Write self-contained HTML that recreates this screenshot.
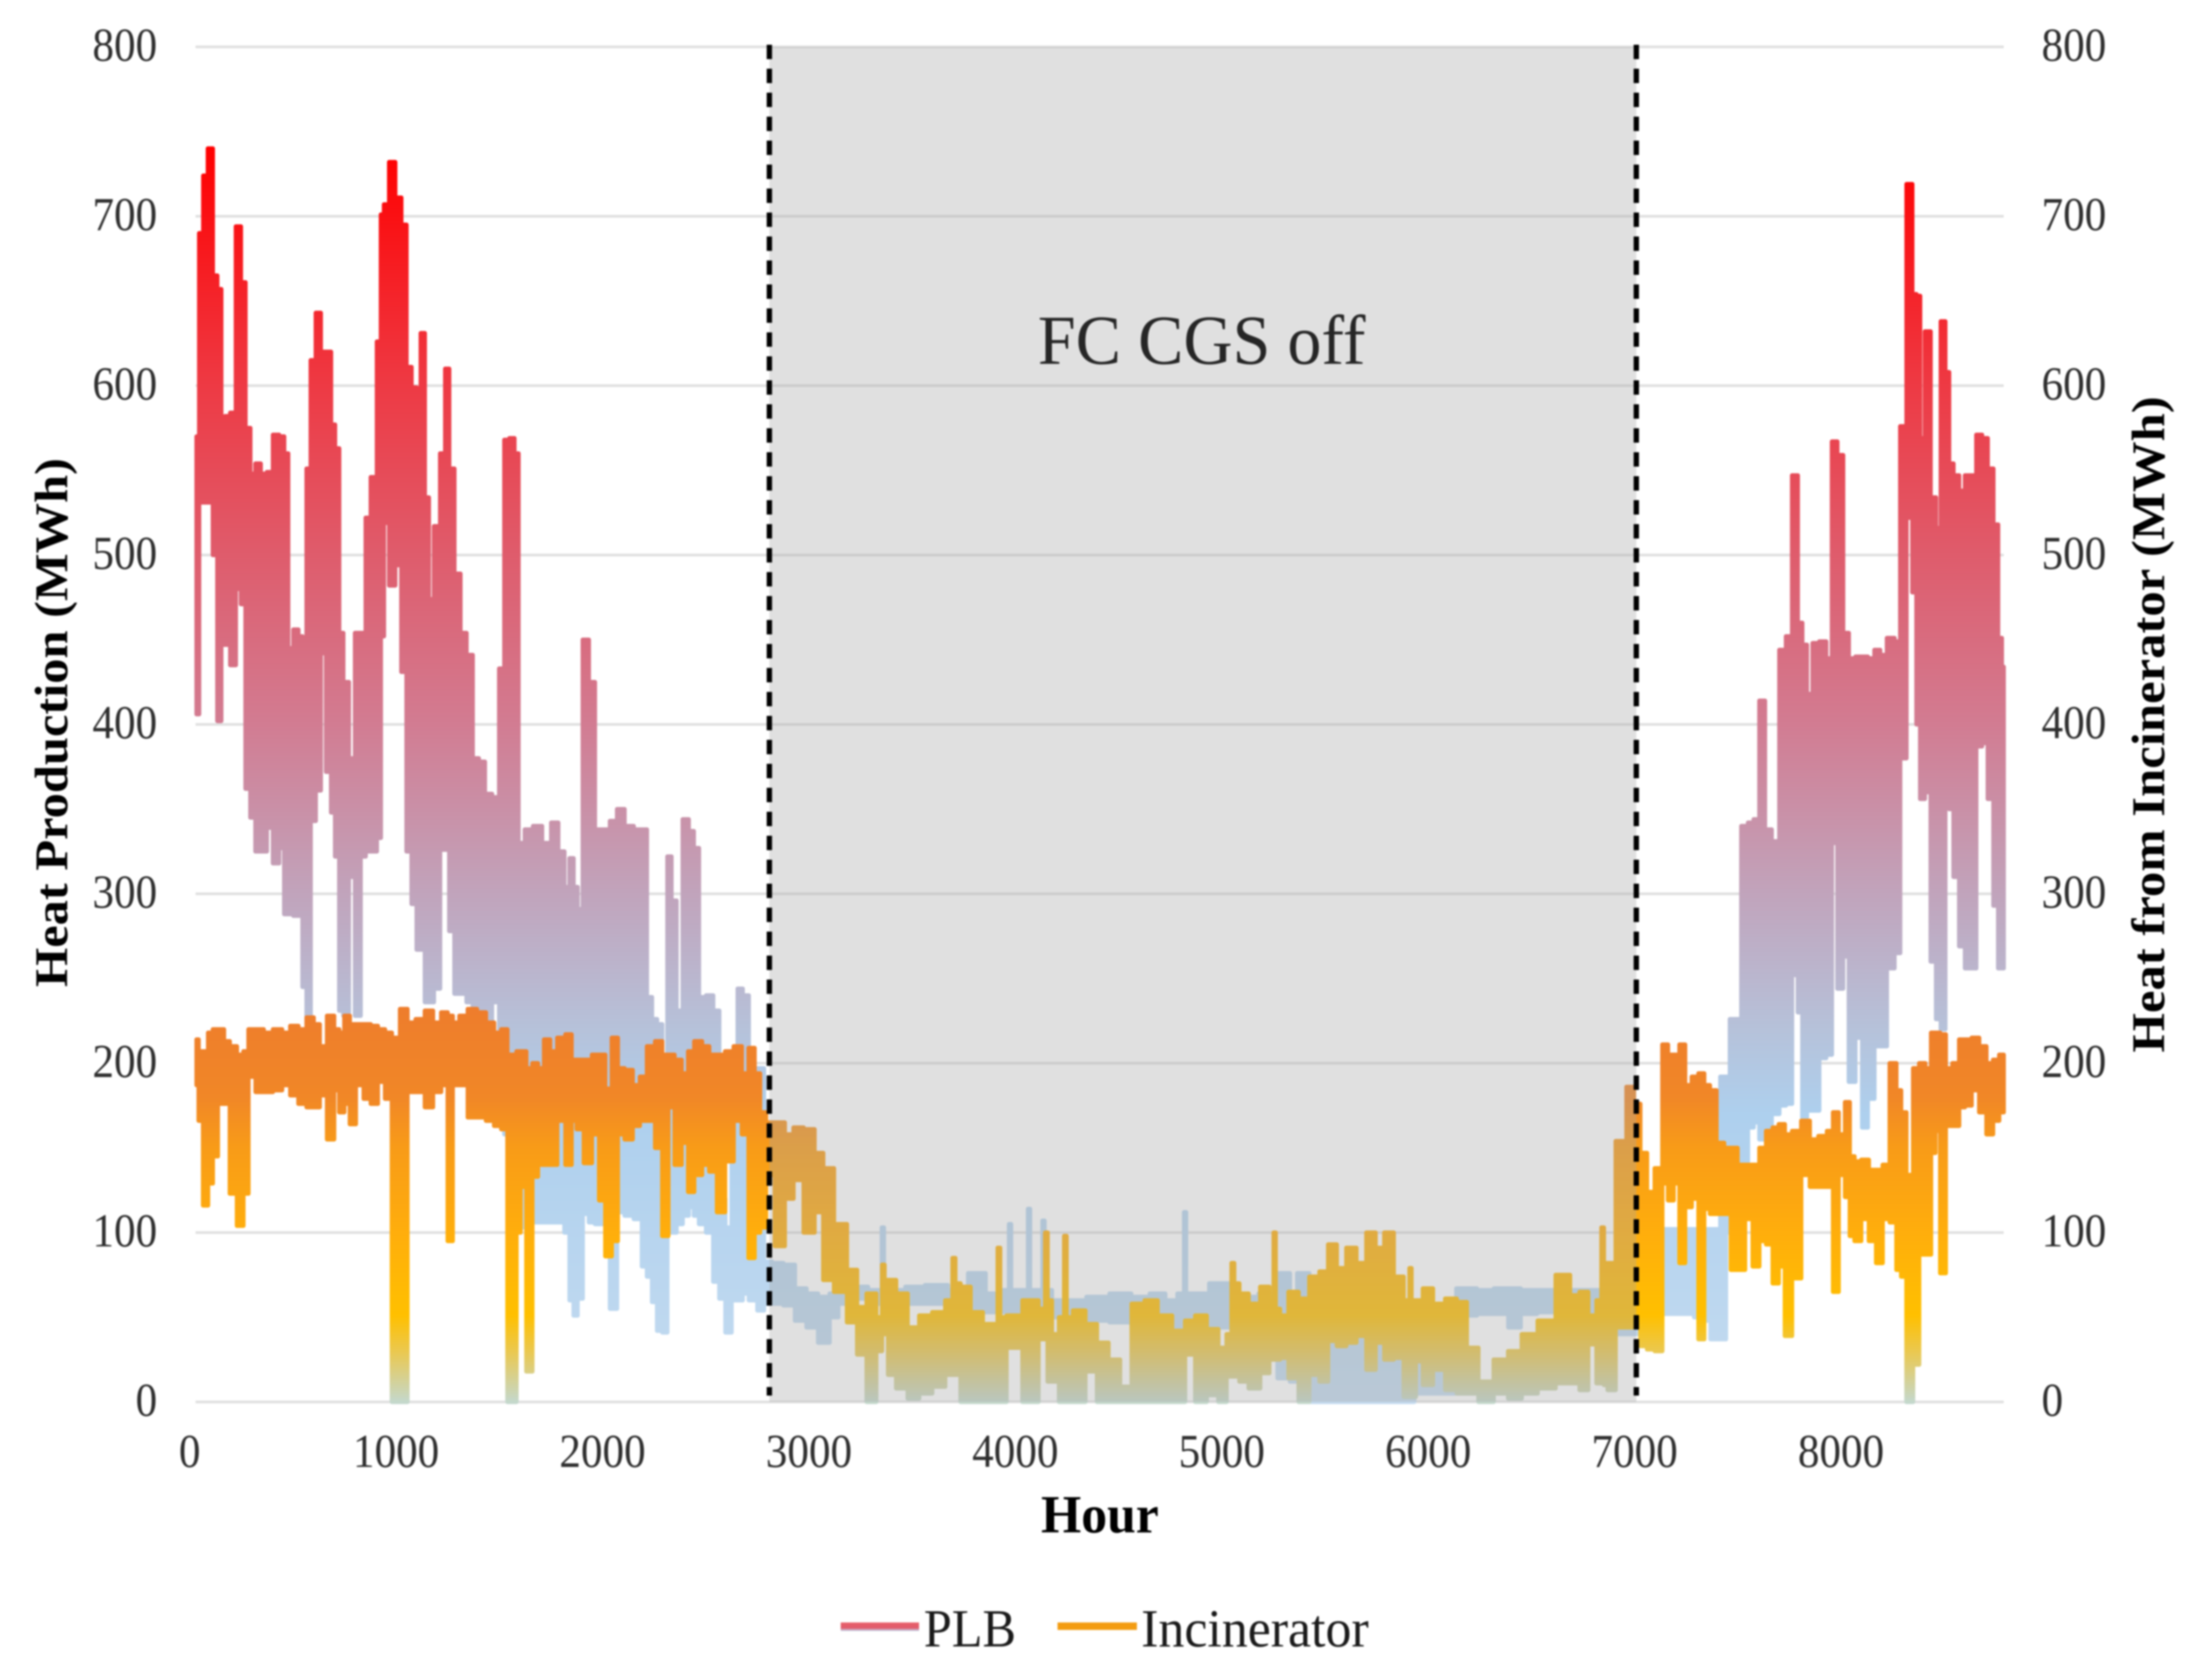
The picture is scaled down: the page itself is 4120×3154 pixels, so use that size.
<!DOCTYPE html>
<html lang="en">
<head>
<meta charset="utf-8">
<title>Heat production chart</title>
<style>
html,body{margin:0;padding:0;background:#fff;}
svg{display:block;filter:blur(1.6px);}
text{font-family:"Liberation Serif",serif;}
</style>
</head>
<body>
<svg id="chart" xmlns="http://www.w3.org/2000/svg" width="4120" height="3154" viewBox="0 0 4120 3154">
<defs>
<linearGradient id="plbGrad" gradientUnits="userSpaceOnUse" x1="0" x2="0" y1="279" y2="2632">
<stop offset="0" stop-color="#ff0000"/>
<stop offset="0.189" stop-color="#ee3a44"/>
<stop offset="0.324" stop-color="#df5c6c"/>
<stop offset="0.459" stop-color="#d27c92"/>
<stop offset="0.595" stop-color="#c1a4bc"/>
<stop offset="0.703" stop-color="#b6c2da"/>
<stop offset="0.77" stop-color="#aed0ee"/>
<stop offset="1" stop-color="#c4dbf0"/>
</linearGradient>
<linearGradient id="incGrad" gradientUnits="userSpaceOnUse" x1="0" x2="0" y1="1894" y2="2632">
<stop offset="0" stop-color="#ee7d2c"/>
<stop offset="0.224" stop-color="#f18727"/>
<stop offset="0.35" stop-color="#f89b18"/>
<stop offset="0.57" stop-color="#ffae0c"/>
<stop offset="0.78" stop-color="#ffc000"/>
<stop offset="0.87" stop-color="#ebc84e"/>
<stop offset="1" stop-color="#c4d8cc"/>
</linearGradient>
<linearGradient id="legendPlbGrad" x1="0" x2="0" y1="0" y2="1">
<stop offset="0" stop-color="#e8606a"/>
<stop offset="0.65" stop-color="#e05c6c"/>
<stop offset="1" stop-color="#c0d8f0"/>
</linearGradient>
</defs>
<rect x="0" y="0" width="4120" height="3154" fill="#ffffff"/>
<g id="grid"></g>
<path id="plbSeries" fill="url(#plbGrad)" stroke="url(#plbGrad)" stroke-width="8" stroke-linejoin="round"/>
<path id="incSeries" fill="url(#incGrad)" stroke="url(#incGrad)" stroke-width="8" stroke-linejoin="round"/>
<rect id="offBand" fill="rgb(165,165,165)" fill-opacity="0.35"/>
<line id="offStart" stroke="#000" stroke-width="10" stroke-dasharray="27 18"/>
<line id="offEnd" stroke="#000" stroke-width="10" stroke-dasharray="27 18"/>
<g id="ticks"></g>
<text x="1948" y="683" font-size="132" fill="#262626" textLength="615" lengthAdjust="spacingAndGlyphs">FC CGS off</text>
<text transform="translate(1954,2877) scale(1,1.1)" font-size="92" font-weight="bold" fill="#000" textLength="221" lengthAdjust="spacingAndGlyphs">Hour</text>
<text transform="translate(126,1853) rotate(-90)" font-size="88" font-weight="bold" fill="#000" textLength="993" lengthAdjust="spacingAndGlyphs">Heat Production (MWh)</text>
<text transform="translate(4062,1976) rotate(-90)" font-size="88" font-weight="bold" fill="#000" textLength="1232" lengthAdjust="spacingAndGlyphs">Heat from Incinerator (MWh)</text>
<g>
<rect x="1578" y="3046" width="147" height="16" fill="url(#legendPlbGrad)"/>
<text transform="translate(1734,3091) scale(1,1.1)" font-size="92" fill="#1a1a1a" textLength="173" lengthAdjust="spacingAndGlyphs">PLB</text>
<rect x="1985" y="3046" width="149" height="14" fill="#f39c12"/>
<text transform="translate(2142,3091) scale(1,1.1)" font-size="92" fill="#1a1a1a" textLength="427" lengthAdjust="spacingAndGlyphs">Incinerator</text>
</g>
</svg>
<script>
const yTicks = [0,100,200,300,400,500,600,700,800];
const xTicks = [0,1000,2000,3000,4000,5000,6000,7000,8000];
const offWindow = [2780,6980];

const plbHours = [5,30,45,74,94,117,133,153,183,208,232,252,279,301,331,360,390,420,439,459,489,508,528,548,568,597,617,647,666,686,706,726,760,785,815,834,864,893,903,923,953,982,1012,1032,1061,1081,1101,1121,1140,1170,1200,1219,1239,1269,1298,1328,1358,1387,1417,1456,1486,1506,1535,1555,1575,1615,1655,1703,1743,1772,1802,1822,1841,1861,1891,1920,1950,1990,2025,2059,2098,2148,2177,2197,2226,2246,2276,2296,2316,2345,2375,2404,2424,2454,2493,2523,2552,2582,2612,2641,2661,2700,2744,
2764,2820,2876,2932,2988,3044,3100,3128,3226,3290,3320,3330,3340,3400,3478,3590,3700,3786,3870,3936,3946,3956,3990,4028,4038,4048,4098,4108,4118,4180,4262,4370,4486,4580,4666,4730,4784,4794,4804,4860,4962,5100,5200,5284,5320,5354,5438,5500,5600,5700,5800,5858,5950,6050,6166,
6250,6330,6390,6450,6550,6650,6782,6900,6960,7018,7080,7147,7200,7240,7280,7310,7369,7405,7424,7442,7470,7507,7535,7562,7590,
7617,7655,7691,7719,7750,7775,7793,7820,7848,7885,7915,7940,7968,7996,8023,8060,8088,8115,8152,8171,8217,8245,8272,8306,8328,8346,8364,8392,8420,8444,8466,8488,8503,8530,8558,8586,8613,8641,8669,8696,8724,8742,8760];
const plbHigh = [570,690,724,740,665,657,581,582,584,694,661,575,548,554,548,549,571,570,560,445,456,452,445,551,615,643,620,620,577,563,454,425,380,454,454,522,546,626,701,707,732,711,695,611,599,551,631,534,474,517,560,610,551,489,454,441,380,378,359,357,433,568,569,560,330,338,340,330,342,325,304,321,304,291,450,425,338,338,343,350,340,338,338,239,226,223,170,322,296,231,344,337,327,239,240,231,120,103,160,244,240,197,197,
83,82,81,67,64,62,64,65,68,66,66,103,66,66,68,69,66,76,64,66,105,66,66,66,114,66,66,107,66,60,60,62,64,62,64,60,64,112,64,64,70,62,64,76,60,76,66,70,70,70,66,60,55,55,67,
66,67,67,66,66,66,66,60,70,67,70,102,102,102,102,102,102,192,192,226,226,340,342,344,414,
338,331,444,452,547,460,447,418,448,449,439,567,559,454,439,440,440,439,444,441,451,449,576,719,654,653,569,632,534,516,638,608,554,547,538,547,547,571,569,551,518,451,434];
const plbLow = [406,531,531,531,500,402,447,447,435,480,471,362,345,325,325,339,318,327,288,288,287,287,245,223,343,361,442,372,348,322,231,228,310,228,322,325,325,333,452,519,482,494,431,325,294,267,267,236,236,244,326,326,278,241,241,236,233,230,225,236,215,158,140,106,103,150,106,106,106,106,100,60,51,61,111,106,105,105,55,112,110,108,80,74,59,42,41,101,100,105,110,115,110,105,100,71,61,41,60,60,64,60,54,
58,58,57,48,44,35,50,58,61,58,58,60,58,58,58,58,55,53,53,53,53,53,52,55,55,55,54,54,54,50,50,48,47,46,45,44,44,44,44,44,44,42,30,14,12,30,0,0,0,0,0,0,5,5,51,
52,52,44,52,53,52,52,40,40,50,52,52,52,52,50,48,37,37,100,130,142,142,162,165,155,
155,170,175,176,252,230,168,172,172,203,205,330,244,263,189,215,162,179,210,210,256,265,380,522,478,400,356,360,260,226,220,356,350,310,269,256,256,387,389,356,293,256,256];

const incHours = [5,25,48,74,94,123,153,179,222,242,271,311,350,400,439,479,518,558,587,617,657,686,706,736,759,795,834,864,903,933,969,1012,1042,1091,1131,1170,1210,1233,1259,1298,1340,1387,1427,1466,1496,1526,1545,1565,1585,1620,1644,1674,1703,1733,1772,1812,1832,1861,1901,1940,1970,2000,2033,2059,2098,2138,2167,2207,2246,2276,2306,2335,2375,2398,2434,2474,2503,2549,2582,2632,2661,2697,2720,2750,
2778,2834,2876,2918,2974,3024,3058,3128,3184,3226,3276,3320,3332,3344,3366,3422,3478,3534,3604,3660,3674,3688,3724,3786,3842,3880,3892,3904,3954,4058,4110,4122,4134,4164,4202,4214,4226,4276,4346,4388,4458,4500,4570,4626,4696,4766,4822,4864,4934,4976,5014,5024,5040,5074,5130,5186,5218,5228,5238,5270,5320,5368,5424,5466,5508,5550,5600,5648,5696,5738,5780,5830,5876,5886,5896,5928,5964,6026,6082,6138,6180,6250,6328,6390,6460,6544,6634,6684,6726,6768,6806,6816,6830,6852,6908,6956,6981,
7018,7046,7092,7120,7147,7175,7203,7230,7267,7295,7323,7350,7387,7424,7452,7489,7525,7562,7590,7627,7654,7686,7713,7756,7802,7839,7885,7922,7944,7977,8005,8023,8051,8088,8125,8158,8189,8226,8254,8272,8305,8337,8364,8396,8420,8438,8466,8493,8530,8558,8586,8623,8659,8693,8724,8752,8760];
const incHigh = [214,207,207,218,220,220,213,210,205,207,220,220,218,220,218,222,220,227,223,210,228,220,218,228,223,223,223,222,220,218,215,232,224,226,231,224,230,228,224,228,232,230,224,218,220,205,205,207,207,197,200,197,214,207,215,217,202,202,202,205,205,185,215,197,196,187,192,210,213,205,205,202,194,207,213,210,205,205,207,210,194,209,194,171,
165,165,158,162,161,147,138,105,78,56,64,50,81,72,72,64,44,51,53,60,85,70,68,53,46,46,91,50,51,60,55,100,60,40,50,98,50,54,46,35,25,9,58,60,51,42,48,51,43,32,40,82,70,64,58,68,60,100,55,51,65,61,74,77,93,79,91,82,100,91,100,74,60,79,60,60,67,58,61,59,32,12,25,30,40,48,75,63,65,51,60,103,82,82,154,186,176,
147,124,138,211,205,205,211,187,192,194,187,184,153,150,150,140,140,140,150,160,162,164,158,160,166,155,157,160,171,158,177,145,142,143,137,137,140,200,184,171,134,197,200,197,218,218,217,197,200,214,214,215,210,200,202,205,205];
const incLow = [187,166,116,129,145,176,176,123,104,123,192,183,183,184,187,181,176,174,174,181,155,184,171,176,164,187,179,176,189,179,0,0,183,183,174,183,187,95,187,187,168,168,166,163,161,0,0,100,127,18,133,140,140,140,166,140,166,161,141,158,119,86,95,158,155,163,166,166,150,98,174,140,153,124,134,140,136,112,142,166,158,85,100,103,
134,92,120,131,100,112,72,65,47,28,0,30,44,40,16,8,2,5,9,16,16,16,0,0,0,0,0,0,32,0,37,37,12,12,0,0,0,0,18,0,0,0,0,0,0,0,28,0,4,0,15,15,15,12,8,17,25,25,25,26,14,0,16,12,36,33,35,39,19,35,25,26,3,3,3,24,10,19,7,5,5,0,5,2,5,8,11,11,7,34,11,11,10,7,44,44,52,
33,31,30,129,119,129,82,115,120,37,114,111,111,111,78,78,108,80,95,93,70,80,39,73,134,127,127,127,65,134,121,98,95,108,95,82,108,106,78,74,0,22,87,87,147,160,76,163,163,174,175,184,171,158,166,171,171];

const svgNS = 'http://www.w3.org/2000/svg';
const PLOT_LEFT = 367, PLOT_RIGHT = 3761, PLOT_TOP = 88, PLOT_BOTTOM = 2632;
const HOUR_MAX = 8760, VALUE_MAX = 800;
function x(h){ return PLOT_LEFT + h * (PLOT_RIGHT - PLOT_LEFT) / HOUR_MAX; }
function y(v){ return PLOT_BOTTOM - v * (PLOT_BOTTOM - PLOT_TOP) / VALUE_MAX; }

function bandPath(hours, high, low){
  const n = hours.length;
  let d = 'M' + x(hours[0]).toFixed(1) + ' ' + y(high[0]).toFixed(1);
  for (let i = 1; i < n; i++){
    const m = x((hours[i-1] + hours[i]) / 2).toFixed(1);
    d += 'L' + m + ' ' + y(high[i-1]).toFixed(1) + 'L' + m + ' ' + y(high[i]).toFixed(1);
  }
  d += 'L' + x(hours[n-1]).toFixed(1) + ' ' + y(high[n-1]).toFixed(1);
  d += 'L' + x(hours[n-1]).toFixed(1) + ' ' + y(low[n-1]).toFixed(1);
  for (let i = n - 1; i > 0; i--){
    const m = x((hours[i-1] + hours[i]) / 2).toFixed(1);
    d += 'L' + m + ' ' + y(low[i]).toFixed(1) + 'L' + m + ' ' + y(low[i-1]).toFixed(1);
  }
  d += 'L' + x(hours[0]).toFixed(1) + ' ' + y(low[0]).toFixed(1) + 'Z';
  return d;
}

document.getElementById('plbSeries').setAttribute('d', bandPath(plbHours, plbHigh, plbLow));
document.getElementById('incSeries').setAttribute('d', bandPath(incHours, incHigh, incLow));

const grid = document.getElementById('grid');
const ticks = document.getElementById('ticks');

yTicks.forEach(function(v){
  const line = document.createElementNS(svgNS, 'line');
  
  
  line.setAttribute('x1', PLOT_LEFT);
  line.setAttribute('x2', PLOT_RIGHT);
  line.setAttribute('y1', y(v));
  line.setAttribute('y2', y(v));
  line.setAttribute('stroke', '#e0e0e0');
  line.setAttribute('stroke-width', '5');
  grid.appendChild(line);

  const left = document.createElementNS(svgNS, 'text');
  
  
  left.setAttribute('transform', 'translate(295,' + (y(v) + 26) + ') scale(1,1.1)');
  left.setAttribute('text-anchor', 'end');
  left.setAttribute('font-size', '81');
  left.setAttribute('fill', '#2e2e2e');
  left.textContent = v;
  ticks.appendChild(left);

  const right = document.createElementNS(svgNS, 'text');
  
  
  right.setAttribute('transform', 'translate(3832,' + (y(v) + 26) + ') scale(1,1.1)');
  right.setAttribute('font-size', '81');
  right.setAttribute('fill', '#2e2e2e');
  right.textContent = v;
  ticks.appendChild(right);
});

xTicks.forEach(function(h){
  const label = document.createElementNS(svgNS, 'text');
  
  
  label.setAttribute('transform', 'translate(' + (x(h) - 11) + ',2754) scale(1,1.1)');
  label.setAttribute('text-anchor', 'middle');
  label.setAttribute('font-size', '81');
  label.setAttribute('fill', '#2e2e2e');
  label.textContent = h;
  ticks.appendChild(label);
});

const band = document.getElementById('offBand');
band.setAttribute('x', x(offWindow[0]));
band.setAttribute('y', PLOT_TOP);
band.setAttribute('width', x(offWindow[1]) - x(offWindow[0]));
band.setAttribute('height', PLOT_BOTTOM - PLOT_TOP);

[['offStart', offWindow[0]], ['offEnd', offWindow[1]]].forEach(function(pair){
  const el = document.getElementById(pair[0]);
  el.setAttribute('x1', x(pair[1]));
  el.setAttribute('x2', x(pair[1]));
  el.setAttribute('y1', PLOT_TOP - 4);
  el.setAttribute('y2', PLOT_BOTTOM - 12);
});
</script>
</body>
</html>
